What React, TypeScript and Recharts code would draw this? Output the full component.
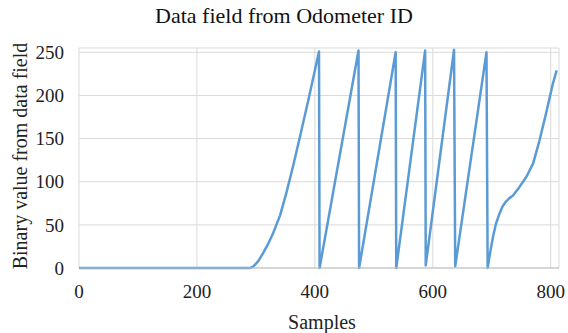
import React from 'react';
import { LineChart, Line, XAxis, YAxis, CartesianGrid, Label } from 'recharts';

const sampleIdx = [0, 290, 296, 304, 312, 320, 329, 341, 352, 363, 375, 390, 407, 408, 474, 475, 537, 538, 587, 588, 636, 638, 691, 693, 697, 702, 707, 713, 718, 724, 730, 736, 747, 759, 770, 781, 792, 803, 810];
const fieldValue = [0, 0, 2, 8, 17, 27, 40, 61, 88, 118, 153, 198, 251, 0, 252, 0, 250, 0, 252, 3, 253, 2, 250, 0, 17, 36, 51, 63, 71, 77, 81, 84, 94, 106, 121, 148, 179, 212, 229];
const xTicks = [0, 200, 400, 600, 800];
const yTicks = [0, 50, 100, 150, 200, 250];

const data = sampleIdx.map((x, i) => ({ x, y: fieldValue[i] }));

const FONT = '"Liberation Serif", "Times New Roman", serif';

export default function App() {
  return (
    <div style={{ position: 'absolute', left: 0, top: 0, width: 568, height: 333, background: '#fff', fontFamily: FONT }}>
      <div style={{ position: 'absolute', left: 0, top: 3, width: 568, textAlign: 'center', fontFamily: FONT, fontSize: 22, color: '#111' }}>
        Data field from Odometer ID
      </div>
      <LineChart width={568} height={333} data={data} margin={{ top: 48, right: 9, bottom: 0, left: 0 }} style={{ fontFamily: FONT }}>
        <CartesianGrid stroke="#d9d9d9" strokeWidth={1} />
        <XAxis
          dataKey="x"
          type="number"
          domain={[0, 814]}
          ticks={xTicks}
          interval={0}
          tickLine={false}
          tickSize={0}
          tickMargin={17}
          height={65}
          stroke="#bfbfbf"
          tick={{ fill: '#222', fontSize: 19, style: { fontFamily: FONT } }}
        >
          <Label
            content={() => (
              <text x={322} y={329} textAnchor="middle" style={{ fontFamily: FONT }} fontSize={20} fill="#222">
                Samples
              </text>
            )}
          />
        </XAxis>
        <YAxis
          type="number"
          domain={[0, 255]}
          ticks={yTicks}
          interval={0}
          axisLine={false}
          tickLine={false}
          tickSize={0}
          tickMargin={15}
          width={79}
          tick={{ fill: '#222', fontSize: 19, style: { fontFamily: FONT } }}
        >
          <Label
            content={() => (
              <text x={27} y={156} transform="rotate(-90 27 156)" textAnchor="middle" style={{ fontFamily: FONT }} fontSize={20} fill="#222">
                Binary value from data field
              </text>
            )}
          />
        </YAxis>
        <Line type="linear" dataKey="y" stroke="#5b9bd5" strokeWidth={2.5} strokeLinejoin="round" dot={false} isAnimationActive={false} />
      </LineChart>
    </div>
  );
}
